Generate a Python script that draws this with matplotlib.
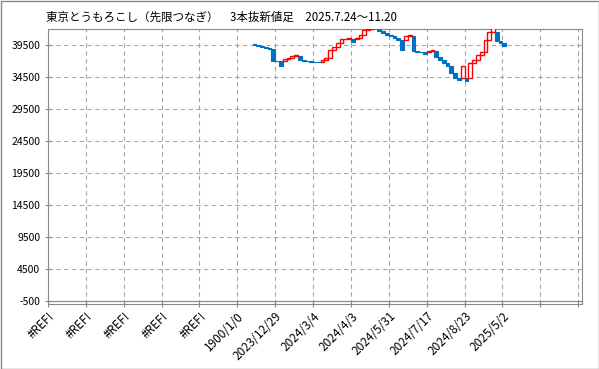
#!/usr/bin/python
# coding: UTF-8
import numpy as np
import matplotlib
matplotlib.use('Agg')
import matplotlib.pyplot as plt
from matplotlib.patches import Rectangle

plt.rcParams['font.family'] = ['Noto Sans CJK JP', 'DejaVu Sans']

title = '東京とうもろこし（先限つなぎ）　3本抜新値足　2025.7.24～11.20'

# category axis: 141 slots, labelled every 10th
n_categories = 141
n_empty_lead = 54
cat_labels = ['#REF!', '#REF!', '#REF!', '#REF!', '#REF!', '1900/1/0',
              '2023/12/29', '2024/3/4', '2024/4/3', '2024/5/31', '2024/7/17',
              '2024/8/23', '2025/5/2']

# three line break bricks (open -> close)
brick_open = [39610, 39450, 39300, 39150, 39050, 38950, 37000, 36950,
              36950, 37270, 37530, 37780,
              37780, 37200, 37050, 36950, 36900, 36860,
              36860, 37110, 37470, 38720, 39140, 39770, 40390, 40470,
              40470,
              40470, 40660, 41020, 41800, 42060, 42150,
              42150, 41750, 41440, 41125, 40900, 40650, 40230,
              40230, 40850,
              40850, 38560, 38400, 38360,
              38360, 38520,
              38520, 37580, 37110, 36640, 36170, 35080, 34300,
              34300,
              34300,
              34300, 36640, 37110, 37890, 38360, 40280, 41480,
              41480, 40120, 39810]
brick_close = [39450, 39300, 39150, 39050, 38950, 37000, 36950, 36220,
               37270, 37530, 37780, 37940,
               37200, 37050, 36950, 36900, 36860, 36820,
               37110, 37470, 38720, 39140, 39770, 40390, 40470, 40550,
               39970,
               40660, 41020, 41800, 42060, 42150, 42200,
               41750, 41440, 41125, 40900, 40650, 40230, 38720,
               40850, 41060,
               38560, 38400, 38360, 38050,
               38520, 38670,
               37580, 37110, 36640, 36170, 35080, 34300, 33980,
               36170,
               33830,
               36640, 37110, 37890, 38360, 40280, 41480, 43500,
               40120, 39810, 39340]

y_min, y_max, y_step = -500, 42000, 5000

fig = plt.figure(figsize=(5.99, 3.69), dpi=100)
ax = fig.add_axes([48/599, 1-303.5/369, 534/599, 274.5/369])

o = np.array(brick_open, dtype=float); c = np.array(brick_close, dtype=float)
x = n_empty_lead + np.arange(len(o)) + 0.5
up = c > o
ax.bar(x[~up], (c-o)[~up], bottom=o[~up], width=1.0, color='#0070C0',
       edgecolor='#0070C0', linewidth=0.8, zorder=3)
ax.bar(x[up], (c-o)[up], bottom=o[up], width=1.0, color='white',
       edgecolor='#FF0000', linewidth=1.0, zorder=4)

ax.set_xlim(0, n_categories)
ax.set_ylim(y_min - 390, y_max)
yt = np.arange(y_min, 40000, y_step)
ax.set_yticks(yt); ax.set_yticklabels([str(v) for v in yt], fontsize=7.5)
xt = np.arange(0, n_categories, 10)
ax.set_xticks(xt)
ax.set_xticklabels(cat_labels + ['']*(len(xt)-len(cat_labels)),
                   rotation=45, ha='right', va='top', rotation_mode='anchor', fontsize=8.5)
ax.tick_params(axis='both', direction='inout', length=5, color='#898989', width=0.8)
ax.tick_params(axis='x', pad=2)
ax.tick_params(axis='y', pad=3)
ax.grid(True, color='#A6A6A6', linestyle=(0, (4, 3)), linewidth=0.8, zorder=0)
ax.axhline(y_min, color='#898989', linewidth=0.8, zorder=2)
for s in ax.spines.values():
    s.set_color('#898989'); s.set_linewidth(0.8)

fig.text(46/599, 1-17.5/369, title, fontsize=8.3, va='center', ha='left')
fig.patches.append(Rectangle((0.5/599, 0.5/369), 598/599, 368/369, transform=fig.transFigure,
                             fill=False, edgecolor='#898989', linewidth=1))
fig.savefig('out.png', dpi=100)
